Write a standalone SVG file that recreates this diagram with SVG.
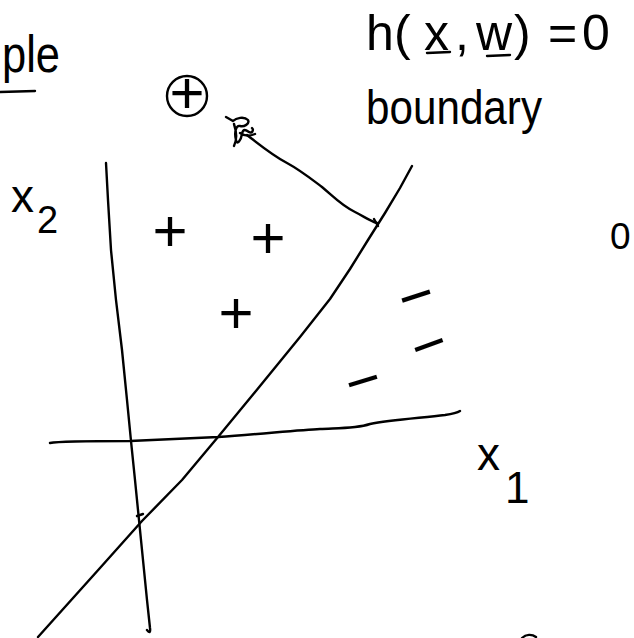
<svg xmlns="http://www.w3.org/2000/svg" width="634" height="638" viewBox="0 0 634 638">
<style>
.ink{fill:none;stroke:#000;stroke-width:2.4;stroke-linecap:round;stroke-linejoin:round}
.txt{font-family:"Liberation Sans","DejaVu Sans",sans-serif;fill:#000}
.mk{font-family:"Liberation Sans","DejaVu Sans",sans-serif;fill:#000;font-size:60px;text-anchor:middle}
</style>
<rect width="634" height="638" fill="#fff"/>
<g id="title-fragment">
<text class="txt" x="2" y="72" font-size="52" textLength="58" lengthAdjust="spacingAndGlyphs">ple</text>
<path class="ink" d="M0,92 L35,91"/>
</g>
<g id="equation">
<text class="txt" font-size="50" y="50"><tspan x="366">h</tspan><tspan x="394">(</tspan><tspan x="424">x</tspan><tspan x="455">,</tspan><tspan x="476">w</tspan><tspan x="514">)</tspan><tspan x="548">=</tspan><tspan x="582">0</tspan></text>
<path class="ink" d="M427,53 L450,52 M487,56 L510,55"/>
</g>
<g id="boundary-label">
<text class="txt" x="366" y="124" font-size="48" textLength="176" lengthAdjust="spacingAndGlyphs">boundary</text>
</g>
<g id="axes">
<path class="ink" d="M106,163 L108,200 L111,250 L116,300 L122,350 L127,400 L131,441 L135,480 L139,520 L143,560 L147,600 L150,628 Q151,635 147,630"/>
<path class="ink" d="M137,516 L143,514"/>
<path class="ink" d="M50,443 C60,441 100,441 130,441 L218,437 C260,434 300,430 320,429 C335,428 355,429 370,424 C390,420 420,418 445,415 C452,414 457,413 460,411"/>
<text class="txt" x="11" y="212" font-size="46">x<tspan x="37" y="233" font-size="38">2</tspan></text>
<text class="txt" x="477" y="470" font-size="46">x<tspan x="505" y="503" font-size="44">1</tspan></text>
</g>
<g id="decision-boundary">
<path class="ink" d="M38,637 L100,568 L142,521 L182,480 L218,437 L260,386 L300,337 L330,299 L350,269 L368,240 L385,213 L400,188 L412,166"/>
</g>
<g id="connectors">
<path class="ink" d="M247,135 C260,145 272,155 287,163 C300,170 310,178 322,187 C335,198 342,206 355,212 C365,217 370,221 377,223"/>
<path class="ink" d="M374,219 L378,226"/>
</g>
<g id="scribble">
<path class="ink" stroke-width="2" d="M226,117 L233,121 C236,118 244,116 248,120 C250,124 244,127 240,126 C236,125 234,132 236,140 C237,146 241,140 242,134 C243,128 246,130 249,132 C252,134 254,130 252,128 M234,124 C236,130 238,138 234,146 M240,133 C244,136 248,137 255,134"/>
</g>
<g id="circled-plus">
<circle class="ink" cx="187" cy="96" r="20"/>
<text class="mk" x="187" y="113" font-size="48">+</text>
</g>
<g id="plus-points">
<text class="mk" x="170" y="251">+</text>
<text class="mk" x="268" y="258">+</text>
<text class="mk" x="236" y="333">+</text>
</g>
<g id="minus-points">
<text class="mk" x="416" y="316" font-size="56" transform="rotate(-18 416 296)">−</text>
<text class="mk" x="429" y="365" font-size="56" transform="rotate(-20 429 345)">−</text>
<text class="mk" x="363" y="401" font-size="56" transform="rotate(-17 363 381)">−</text>
</g>
<g id="margin-marks">
<text class="txt" x="610" y="249" font-size="37">0</text>
<path class="ink" d="M522,638 C526,634 532,634 536,637"/>
</g>
</svg>
